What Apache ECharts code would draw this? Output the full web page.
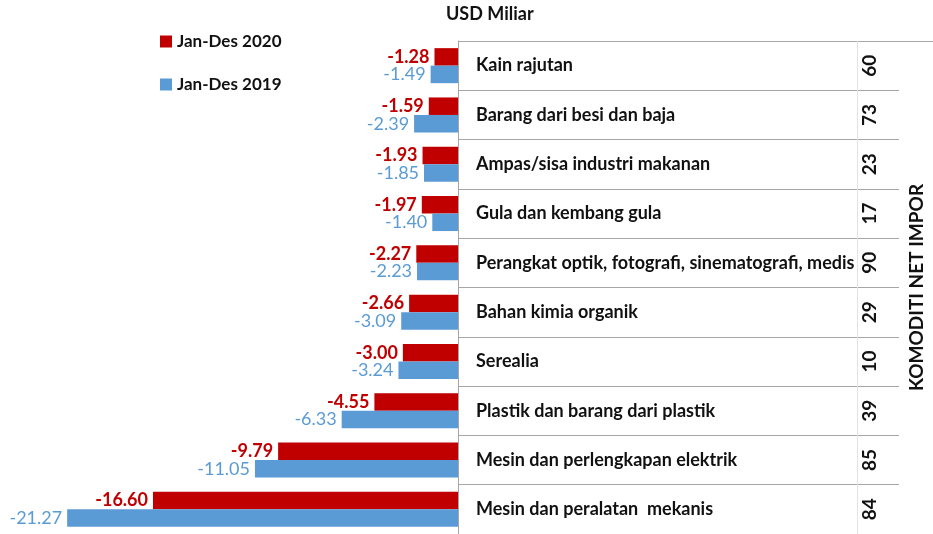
<!DOCTYPE html>
<html><head><meta charset="utf-8">
<script src="https://cdn.jsdelivr.net/npm/echarts@6/dist/echarts.min.js"></script>
<style>html,body{margin:0;padding:0;background:#fff}#c{width:933px;height:534px}</style>
</head><body><div id="c"></div>
<script>
const categories = [
  'Kain rajutan',
  'Barang dari besi dan baja',
  'Ampas/sisa industri makanan',
  'Gula dan kembang gula',
  'Perangkat optik, fotografi, sinematografi, medis',
  'Bahan kimia organik',
  'Serealia',
  'Plastik dan barang dari plastik',
  'Mesin dan perlengkapan elektrik',
  'Mesin dan peralatan  mekanis'
];
const codes = ['60', '73', '23', '17', '90', '29', '10', '39', '85', '84'];
const values2020 = [-1.28, -1.59, -1.93, -1.97, -2.27, -2.66, -3.00, -4.55, -9.79, -16.60];
const values2019 = [-1.49, -2.39, -1.85, -1.40, -2.23, -3.09, -3.24, -6.33, -11.05, -21.27];
const seriesNames = ['Jan-Des 2020', 'Jan-Des 2019'];
const unitLabel = 'USD Miliar';
const sideTitle = 'KOMODITI NET IMPOR';

const FONT = 'Lato';
const RED = '#C00000';
const BLUE = '#5B9BD5';
const LINE = '#a6a6a6';

const chart = echarts.init(document.getElementById('c'), null, {renderer: 'canvas'});
const option = {
  animation: false,
  backgroundColor: '#fff',
  title: {
    text: unitLabel, left: 446, top: 5, padding: 0,
    textStyle: {fontFamily: FONT, fontSize: 18, fontWeight: 'bold', color: '#111'}
  },
  legend: {
    data: seriesNames,
    orient: 'vertical', left: 160, top: 33, padding: 0,
    itemWidth: 12, itemHeight: 12, itemGap: 26, icon: 'rect',
    textStyle: {fontFamily: FONT, fontSize: 17, fontWeight: 'bold', color: '#111'}
  },
  grid: [
    {left: 17, width: 441, top: 41, height: 495},
    {left: 458, width: 441, top: 41, height: 495},
    {left: 899, right: 0, top: 41, height: 495}
  ],
  xAxis: [
    {gridIndex: 0, type: 'value', min: -24, max: 0, show: false},
    {gridIndex: 1, type: 'value', min: 0, max: 1, show: false},
    {gridIndex: 2, type: 'value', min: 0, max: 1, position: 'top',
     axisLine: {show: true, lineStyle: {color: LINE, width: 1}},
     axisTick: {show: false}, axisLabel: {show: false}, splitLine: {show: false}}
  ],
  yAxis: [
    {gridIndex: 0, type: 'category', data: categories, inverse: true, show: false},
    {gridIndex: 1, type: 'category', data: categories, inverse: true, position: 'left',
     axisLine: {show: true, lineStyle: {color: LINE, width: 1}},
     axisTick: {show: false},
     axisLabel: {inside: true, margin: 18, fontFamily: FONT, fontSize: 18, fontWeight: 'bold', color: '#111'},
     splitLine: {show: true, lineStyle: {color: LINE, width: 1}}},
    {gridIndex: 1, type: 'category', data: codes, inverse: true, position: 'right', offset: -42,
     axisLine: {show: true, lineStyle: {color: '#e3e3e3', width: 1}},
     axisTick: {show: false},
     axisLabel: {rotate: 90, margin: 3, fontFamily: FONT, fontSize: 19, fontWeight: 'bold', color: '#111'},
     name: sideTitle, nameLocation: 'middle', nameRotate: 90, nameGap: 50,
     nameTextStyle: {fontFamily: FONT, fontSize: 19, fontWeight: 'bold', color: '#111'}},
    {gridIndex: 2, type: 'category', data: codes, inverse: true, show: false}
  ],
  series: [
    {
      name: seriesNames[0], type: 'bar', xAxisIndex: 0, yAxisIndex: 0,
      data: values2020, barGap: '0%', barCategoryGap: '29%',
      itemStyle: {color: RED},
      label: {show: true, position: 'left', distance: 5,
        formatter: p => p.value.toFixed(2),
        fontFamily: FONT, fontSize: 18, fontWeight: 'bold', color: RED}
    },
    {
      name: seriesNames[1], type: 'bar', xAxisIndex: 0, yAxisIndex: 0,
      data: values2019, barGap: '0%', barCategoryGap: '29%',
      itemStyle: {color: BLUE},
      label: {show: true, position: 'left', distance: 5,
        formatter: p => p.value.toFixed(2),
        fontFamily: FONT, fontSize: 18, fontWeight: 'normal', color: BLUE}
    }
  ]
};
chart.setOption(option);
</script>
</body></html>
